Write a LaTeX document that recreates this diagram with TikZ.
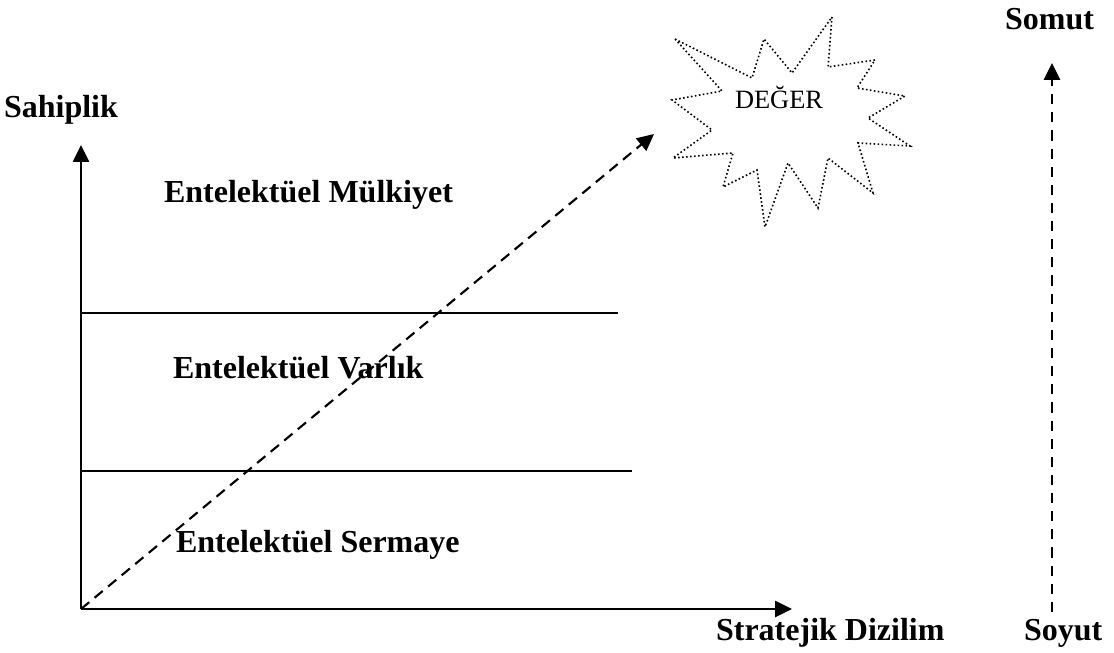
\documentclass[tikz,border=0pt]{standalone}
\usepackage{fontspec}
\setmainfont{Liberation Serif}
\usetikzlibrary{arrows.meta}

\begin{document}
\begin{tikzpicture}[x=0.375pt, y=-0.375pt, thick,
		lbl/.style={font=\fontsize{12}{14}\selectfont\bfseries, inner sep=0pt, anchor=base west},
		axis/.style={line width=0.75pt, -{Triangle[length=6.3pt, width=6pt]}},
		band/.style={line width=0.55pt},
		dasharrow/.style={line width=0.8pt, dash pattern=on 4pt off 2.6pt, -{Triangle[length=6.3pt, width=6pt]}},
		starline/.style={line width=0.6pt, dash pattern=on 0.6pt off 0.9pt}
		]
	\useasboundingbox (0,0) rectangle (1114,653);
	% axes
	\coordinate (o) at (81,609);
	\coordinate (ytip) at (81,145);
	\coordinate (xtip) at (792,609);
	\draw [axis] (o) -- (ytip);
	\draw [axis] (o) -- (xtip);
	% band borders
	\coordinate (b1l) at (81,313);
	\coordinate (b1r) at (618,313);
	\coordinate (b2l) at (81,471);
	\coordinate (b2r) at (632,471);
	\draw [band] (b1l) -- (b1r);
	\draw [band] (b2l) -- (b2r);
	% labels
	\node [lbl] (sahiplik) at (3,117) {Sahiplik};
	\node [lbl] (mulkiyet) at (163,202) {Entelektüel Mülkiyet};
	\node [lbl] (varlik) at (172,378) {Entelektüel Varlık};
	\node [lbl] (sermaye) at (175,552) {Entelektüel Sermaye};
	\node [lbl] (dizilim) at (715,640) {Stratejik Dizilim};
	\node [lbl] (soyut) at (1023,640) {Soyut};
	\node [lbl] (somut) at (1004,29) {Somut};
	% value burst
	\draw [starline] (675,39) -- (752,78) -- (764,39) -- (792,73) -- (832,17) -- (828,67)
		-- (875,60) -- (857,88) -- (905,96) -- (868,118) -- (910,146) -- (858,143)
		-- (873,193) -- (828,158) -- (818,208) -- (788,163) -- (765,227) -- (757,170)
		-- (723,187) -- (733,153) -- (673,158) -- (712,130) -- (672,100) -- (722,91) -- cycle;
	\node [font=\fontsize{9.9}{12}\selectfont, inner sep=0pt, anchor=base] (deger) at (779,108) {DEĞER};
	% dashed arrows
	\coordinate (vtip) at (654,134);
	\draw [dasharrow] (o) -- (vtip);
	\coordinate (soyuttop) at (1052,612);
	\coordinate (somutbot) at (1052,63);
	\draw [dasharrow, dash pattern=on 3.8pt off 3pt] (soyuttop) -- (somutbot);
\end{tikzpicture}
\end{document}
